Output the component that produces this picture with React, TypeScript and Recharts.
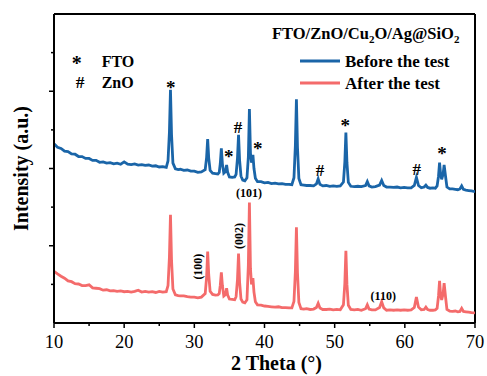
import React from 'react';
import { LineChart, Line, XAxis, YAxis, ReferenceLine, ReferenceDot, Legend, Label } from 'recharts';

const FONT = "'Liberation Serif', 'Times New Roman', Times, serif";
const BLUE = '#1a65a8';
const RED = '#f46b6b';

// 2 theta (deg) sample positions, shared by both patterns
const twoTheta = [
  10, 10.5, 11, 11.5, 12, 12.5, 13, 13.5, 14, 14.5, 15, 15.5, 16, 16.5, 17, 17.5, 18, 18.5, 19, 19.5, 20, 20.5, 21, 21.5, 22, 22.5, 23, 23.5, 24, 24.5, 25, 25.5, 26,
  26.25, 26.45, 26.6, 26.75, 26.95, 27.3, 27.7, 28, 28.5, 29, 29.5, 30, 30.5, 31,
  31.55, 31.75, 31.9, 32.05, 32.25, 32.6, 33, 33.35, 33.55, 33.7, 33.85, 34.0, 34.2, 34.45, 34.6, 34.75, 35.0, 35.4, 35.75,
  35.95, 36.15, 36.3, 36.45, 36.65, 36.9, 37.2, 37.5, 37.7, 37.85, 38.0, 38.15, 38.35, 38.5, 38.7,
  39, 39.5, 40, 40.5, 41, 41.5, 42, 42.5, 43, 43.5, 43.9, 44.2, 44.4, 44.55, 44.7, 44.9,
  45.2, 45.6, 46, 46.5, 47, 47.4, 47.65, 47.9, 48.3, 48.8, 49.3, 49.8, 50.3, 50.8, 51.25, 51.45, 51.6, 51.75, 51.95,
  52.3, 52.8, 53.3, 53.8, 54.4, 54.65, 54.9, 55.3, 55.8, 56.4, 56.7, 57.0, 57.4, 57.9, 58.4, 58.9, 59.4, 59.9, 60.4, 60.9,
  61.35, 61.65, 61.95, 62.35, 62.75, 63.0, 63.25, 63.6, 64.0, 64.35, 64.6, 64.8, 64.95, 65.1, 65.25, 65.45, 65.6, 65.8, 66.0, 66.4, 66.8, 67.2, 67.55, 67.85, 68.1, 68.35, 68.7, 69.1, 69.5, 70,
];

// offset intensity, before the test (upper trace)
const beforeTest = [
  4.64, 4.55, 4.52, 4.45, 4.44, 4.38, 4.37, 4.31, 4.31, 4.26, 4.26, 4.21, 4.21, 4.16, 4.17, 4.14, 4.15, 4.12, 4.14, 4.11, 4.17, 4.11, 4.10, 4.12, 4.09, 4.10, 4.08, 4.09, 4.06, 4.07, 4.04, 4.05, 4.03,
  4.20, 4.94, 6.04, 4.88, 4.14, 3.99, 3.97, 3.98, 3.95, 3.96, 3.93, 3.93, 3.90, 3.91,
  3.97, 4.29, 4.76, 4.27, 3.95, 3.88, 3.87, 3.86, 3.90, 4.13, 4.52, 4.12, 3.88, 3.92, 4.09, 3.90, 3.78, 3.77, 3.78,
  3.85, 4.27, 4.87, 4.22, 3.80, 3.70, 3.68, 3.76, 4.30, 5.54, 4.40, 4.15, 4.35, 4.00, 3.75,
  3.66, 3.66, 3.63, 3.64, 3.61, 3.62, 3.60, 3.61, 3.59, 3.59, 3.58, 3.76, 4.60, 5.79, 4.55, 3.74,
  3.58, 3.57, 3.56, 3.56, 3.55, 3.60, 3.73, 3.59, 3.55, 3.56, 3.54, 3.55, 3.54, 3.55, 3.65, 4.17, 4.93, 4.15, 3.64,
  3.54, 3.53, 3.54, 3.53, 3.56, 3.66, 3.55, 3.52, 3.53, 3.57, 3.69, 3.56, 3.52, 3.52, 3.51, 3.52, 3.50, 3.51, 3.50, 3.50,
  3.56, 3.77, 3.56, 3.50, 3.52, 3.57, 3.51, 3.49, 3.50, 3.49, 3.55, 3.80, 4.15, 3.85, 3.72, 3.85, 4.09, 3.80, 3.52, 3.47, 3.47, 3.46, 3.45, 3.47, 3.55, 3.46, 3.44, 3.43, 3.42, 3.40,
];

// intensity after the test (lower trace)
const afterTest = [
  1.34, 1.27, 1.21, 1.16, 1.09, 1.07, 1.02, 1.01, 0.97, 0.97, 0.99, 0.91, 0.90, 0.89, 0.85, 0.86, 0.83, 0.84, 0.82, 0.83, 0.81, 0.82, 0.80, 0.82, 0.85, 0.80, 0.82, 0.80, 0.81, 0.79, 0.82, 0.80, 0.81,
  0.97, 1.71, 2.80, 1.62, 0.88, 0.73, 0.71, 0.70, 0.70, 0.68, 0.67, 0.67, 0.65, 0.67,
  0.76, 1.19, 1.85, 1.25, 0.82, 0.74, 0.72, 0.73, 0.76, 0.98, 1.31, 0.97, 0.70, 0.74, 0.90, 0.72, 0.62, 0.61, 0.60,
  0.68, 1.13, 1.80, 1.06, 0.62, 0.54, 0.52, 0.60, 1.50, 3.12, 1.40, 1.00, 1.16, 0.80, 0.55,
  0.47, 0.46, 0.44, 0.43, 0.42, 0.41, 0.42, 0.40, 0.40, 0.39, 0.39, 0.56, 1.33, 2.48, 1.30, 0.53,
  0.37, 0.36, 0.37, 0.35, 0.36, 0.40, 0.51, 0.39, 0.35, 0.35, 0.36, 0.34, 0.35, 0.34, 0.47, 1.03, 1.87, 1.00, 0.46,
  0.35, 0.34, 0.35, 0.33, 0.37, 0.47, 0.36, 0.34, 0.34, 0.40, 0.55, 0.39, 0.33, 0.34, 0.33, 0.34, 0.33, 0.34, 0.33, 0.34,
  0.40, 0.67, 0.41, 0.34, 0.35, 0.41, 0.35, 0.33, 0.33, 0.34, 0.38, 0.70, 1.09, 0.72, 0.60, 0.75, 1.03, 0.68, 0.35, 0.31, 0.30, 0.31, 0.29, 0.30, 0.38, 0.30, 0.29, 0.28, 0.27, 0.26,
];

const xTicks = [10, 15, 20, 25, 30, 35, 40, 45, 50, 55, 60, 65, 70];
const yTicks = [1, 2, 3, 4, 5, 6, 7];
const seriesOrder = ['Before the test', 'After the test'];

// phase markers above the upper pattern (centre of the glyph)
const peakMarks = [
  { x: 26.63, y: 6.17, mark: '*' },
  { x: 34.9, y: 4.37, mark: '*' },
  { x: 36.22, y: 5.07, mark: '#' },
  { x: 39.03, y: 4.59, mark: '*' },
  { x: 47.91, y: 3.96, mark: '#' },
  { x: 51.51, y: 5.19, mark: '*' },
  { x: 61.69, y: 3.99, mark: '#' },
  { x: 65.29, y: 4.46, mark: '*' },
];

// ZnO plane indices on the lower pattern
const planeLabels = [
  { x: 30.48, y: 1.46, text: '(100)', vertical: true },
  { x: 36.32, y: 2.25, text: '(002)', vertical: true },
  { x: 37.78, y: 3.36, text: '(101)', vertical: false },
  { x: 56.93, y: 0.7, text: '(110)', vertical: false },
];

const phaseKey = [
  { mark: '*', name: 'FTO' },
  { mark: '#', name: 'ZnO' },
];

const rows = twoTheta.map((x, i) => ({ x, before: beforeTest[i], after: afterTest[i] }));

function Mark({ cx, cy, mark }: { cx: number; cy: number; mark: string }) {
  const star = mark === '*';
  return (
    <text x={cx} y={cy} dy={star ? 9 : 6} textAnchor="middle" fontSize={star ? 19 : 17} fontWeight="bold" fontFamily={FONT} fill="#000">
      {mark}
    </text>
  );
}

function XTick({ x, y, payload }: any) {
  const major = payload.value % 10 === 0;
  return (
    <g>
      <line x1={x} x2={x} y1={y} y2={y + (major ? 5 : 3)} stroke="#000" strokeWidth={1.5} />
      {major && (
        <text x={x} y={y + 25} textAnchor="middle" fontSize={18.5} fontFamily={FONT} fill="#000">
          {payload.value}
        </text>
      )}
    </g>
  );
}

function YTick({ x, y, payload }: any) {
  const major = payload.value % 2 === 0;
  return <line x1={x} x2={x - (major ? 5 : 3)} y1={y} y2={y} stroke="#000" strokeWidth={1.5} />;
}

function XTitle({ viewBox }: any) {
  const vb = viewBox || { x: 54, y: 323, width: 421 };
  return (
    <text x={vb.x + vb.width / 2 + 12} y={vb.y + 47} textAnchor="middle" fontSize={20} fontWeight="bold" fontFamily={FONT} fill="#000">
      2 Theta (°)
    </text>
  );
}

function YTitle({ viewBox }: any) {
  const vb = viewBox || { x: 0, y: 14, height: 309 };
  const cx = vb.x + 27.5;
  const cy = vb.y + vb.height / 2;
  return (
    <text x={cx} y={cy} transform={`rotate(-90 ${cx} ${cy})`} textAnchor="middle" fontSize={20} fontWeight="bold" fontFamily={FONT} fill="#000">
      Intensity (a.u.)
    </text>
  );
}

function LegendBox({ payload }: any) {
  const items = seriesOrder.map((name) => (payload || []).find((it: any) => it.value === name)).filter(Boolean);
  return (
    <svg width={487} height={110} style={{ display: 'block', pointerEvents: 'none' }}>
      <text x={272} y={38.5} fontSize={16.5} fontWeight="bold" fontFamily={FONT} fill="#000">
        FTO/ZnO/Cu<tspan fontSize={11} dy={4}>2</tspan>
        <tspan dy={-4}>O/Ag@SiO</tspan>
        <tspan fontSize={11} dy={4}>2</tspan>
      </text>
      {items.map((it: any, i: number) => (
        <g key={it.value}>
          <line x1={300} x2={340} y1={61 + i * 22} y2={61 + i * 22} stroke={it.color} strokeWidth={3} />
          <text x={345} y={66.5 + i * 22} fontSize={17} fontWeight="bold" fontFamily={FONT} fill="#000">
            {it.value}
          </text>
        </g>
      ))}
      {phaseKey.map((k, i) => (
        <g key={k.name}>
          {k.mark === '*' ? (
            <text x={76.7} y={70} textAnchor="middle" fontSize={20} fontWeight="bold" fontFamily={FONT} fill="#000">*</text>
          ) : (
            <text x={80} y={88} textAnchor="middle" fontSize={17.5} fontWeight="bold" fontFamily={FONT} fill="#000">#</text>
          )}
          <text x={101.7} y={66.7 + i * 20.8} fontSize={16} fontWeight="bold" fontFamily={FONT} fill="#000">
            {k.name}
          </text>
        </g>
      ))}
    </svg>
  );
}

export default function App() {
  return (
    <div style={{ position: 'absolute', left: 0, top: 0, width: 487, height: 376, background: '#fff' }}>
      <LineChart width={487} height={376} data={rows} margin={{ top: 14, right: 12, bottom: 0, left: 0 }}>
        <XAxis
          dataKey="x"
          type="number"
          domain={[10, 70]}
          ticks={xTicks}
          interval={0}
          height={53}
          tickSize={0}
          tickMargin={0}
          tickLine={false}
          tick={(p: any) => <XTick {...p} />}
          axisLine={{ stroke: '#000', strokeWidth: 2 }}
          allowDataOverflow
        >
          <Label content={(p: any) => <XTitle {...p} />} />
        </XAxis>
        <YAxis
          type="number"
          domain={[0, 8]}
          ticks={yTicks}
          interval={0}
          width={54}
          tickSize={0}
          tickMargin={0}
          tickLine={false}
          tick={(p: any) => <YTick {...p} />}
          axisLine={{ stroke: '#000', strokeWidth: 2 }}
          allowDataOverflow
        >
          <Label content={(p: any) => <YTitle {...p} />} />
        </YAxis>
        <ReferenceLine y={8} stroke="#000" strokeWidth={2} />
        <ReferenceLine x={70} stroke="#000" strokeWidth={2} />
        <Line type="linear" dataKey="before" name="Before the test" stroke={BLUE} strokeWidth={2.8} dot={false} isAnimationActive={false} />
        <Line type="linear" dataKey="after" name="After the test" stroke={RED} strokeWidth={2.8} dot={false} isAnimationActive={false} />
        {peakMarks.map((m, i) => (
          <ReferenceDot key={'m' + i} x={m.x} y={m.y} r={0} shape={(p: any) => <Mark cx={p.cx} cy={p.cy} mark={m.mark} />} />
        ))}
        {planeLabels.map((l, i) => (
          <ReferenceDot
            key={'p' + i}
            x={l.x}
            y={l.y}
            r={0}
            shape={(p: any) => (
              <text
                x={p.cx}
                y={p.cy}
                transform={l.vertical ? `rotate(-90 ${p.cx} ${p.cy})` : undefined}
                textAnchor="middle"
                dominantBaseline="central"
                fontSize={12}
                fontWeight="bold"
                fontFamily={FONT}
                fill="#000"
              >
                {l.text}
              </text>
            )}
          />
        ))}
        <Legend
          layout="vertical"
          align="center"
          verticalAlign="middle"
          wrapperStyle={{ left: 0, top: 0, width: 487, height: 110 }}
          content={(p: any) => <LegendBox payload={p.payload} />}
        />
      </LineChart>
    </div>
  );
}
